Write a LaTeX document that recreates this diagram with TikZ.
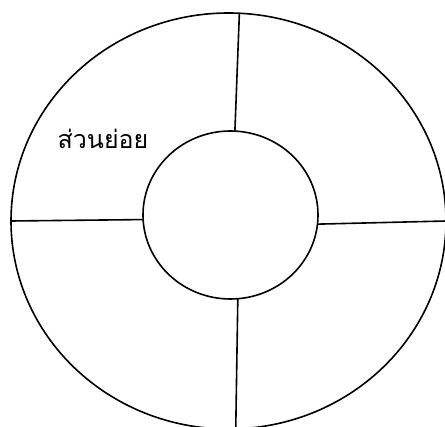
\documentclass[tikz,border=0pt]{standalone}
\usepackage{fontspec}
\newfontfamily\thaifont[Script=Thai]{Loma}
\usetikzlibrary{shapes.geometric}

\tikzset{
	ring/.style={draw, ellipse, line width=1.6pt, inner sep=0pt, outer sep=0pt},
	spoke/.style={line width=1.6pt}
}

\begin{document}
\begin{tikzpicture}[x=1pt, y=-1pt]
			\useasboundingbox (0,0) rectangle (445,427);
			\clip (0,0) rectangle (445,427);
			\node[ring, minimum width=435pt, minimum height=416pt] (outer) at (228.5,221) {};
			\node[ring, minimum width=175pt, minimum height=168pt] (inner) at (230.5,215) {};
			\draw[spoke] (inner.87) -- (outer.87.6);
			\draw[spoke] (inner.-6) -- (outer.0);
			\draw[spoke] (inner.-85.6) -- (outer.-88);
			\draw[spoke] (inner.183) -- (outer.180);
			\node[anchor=base] (part) at (103,149) {\thaifont\fontsize{25}{30}\selectfont ส่วนย่อย};
		\end{tikzpicture}
\end{document}
